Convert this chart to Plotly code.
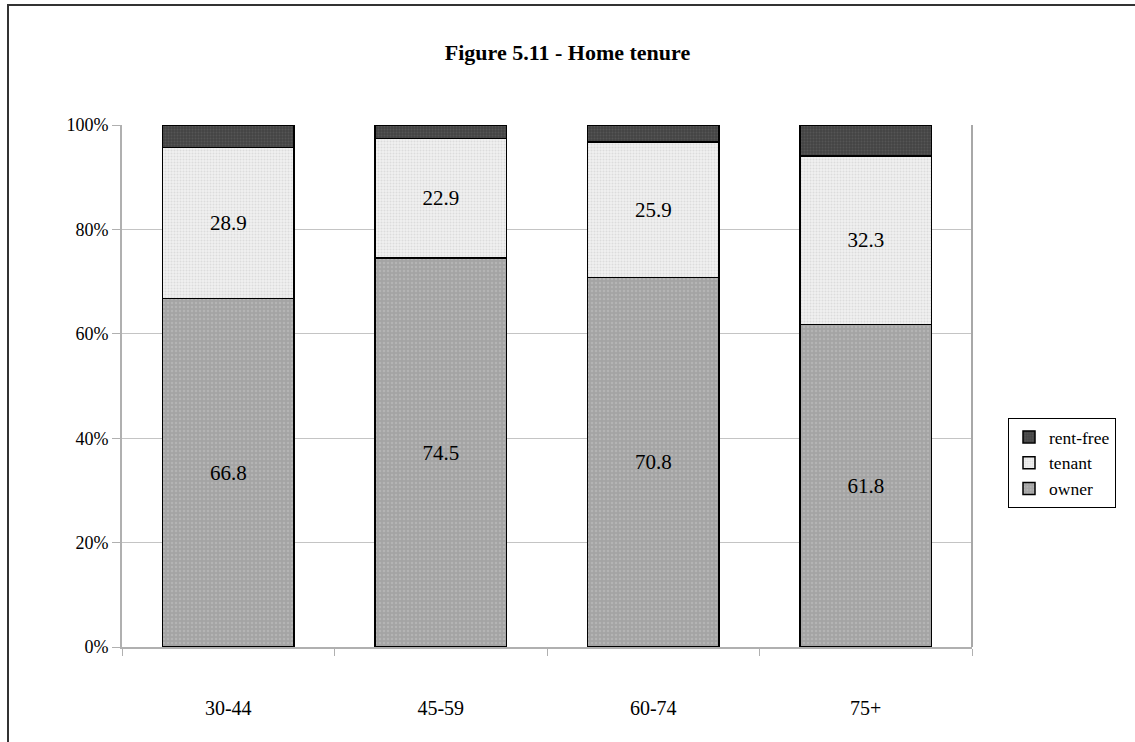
import plotly.graph_objects as go

# Age groups and tenure shares (%)
age_groups = ["30-44", "45-59", "60-74", "75+"]
owner = [66.8, 74.5, 70.8, 61.8]
tenant = [28.9, 22.9, 25.9, 32.3]
rent_free = [4.3, 2.6, 3.3, 5.9]

W, H = 1135, 742
ML, MR, MT, MB = 122, 163, 125, 95
PW, PH = W - ML - MR, H - MT - MB

font_family = "Liberation Serif, Times New Roman, serif"
label_font = dict(size=21, color="black", family=font_family)

fig = go.Figure()

fig.add_trace(go.Bar(
    name="owner", x=age_groups, y=owner,
    text=[f"{v:.1f}" for v in owner], textposition="inside",
    insidetextanchor="middle", textangle=0, textfont=label_font,
    marker=dict(color="#a4a4a4", line=dict(color="black", width=1.5),
                pattern=dict(shape=".", fgcolor="#c4c4c4", bgcolor="#a4a4a4",
                             size=4, solidity=0.3)),
))
fig.add_trace(go.Bar(
    name="tenant", x=age_groups, y=tenant,
    text=[f"{v:.1f}" for v in tenant], textposition="inside",
    insidetextanchor="middle", textangle=0, textfont=label_font,
    marker=dict(color="#ececec", line=dict(color="black", width=1.5),
                pattern=dict(shape=".", fgcolor="#c8c8c8", bgcolor="#f0f0f0",
                             size=3, solidity=0.35)),
))
fig.add_trace(go.Bar(
    name="rent-free", x=age_groups, y=rent_free,
    marker=dict(color="#4a4a4a", line=dict(color="black", width=1.5),
                pattern=dict(shape=".", fgcolor="#666666", bgcolor="#444444",
                             size=3, solidity=0.35)),
))

# outer frame of the chart
fig.add_shape(type="rect", xref="paper", yref="paper",
              x0=(8 - ML) / PW, x1=(W + 10 - ML) / PW,
              y0=(PH + MT - (H + 10)) / PH, y1=(PH + MT - 5) / PH,
              line=dict(color="#333333", width=2), fillcolor="rgba(0,0,0,0)",
              layer="below")

fig.update_layout(
    width=W, height=H,
    margin=dict(l=ML, r=MR, t=MT, b=MB),
    barmode="stack", bargap=0.38,
    paper_bgcolor="white", plot_bgcolor="white",
    font=dict(family=font_family, size=19, color="black"),
    title=dict(text="<b>Figure 5.11 - Home tenure</b>", x=0.5, xanchor="center",
               y=1 - 52 / H, yanchor="middle",
               font=dict(size=22, family=font_family, color="black")),
    showlegend=True,
    legend=dict(x=(1008 - ML) / PW, xanchor="left",
                y=(PH + MT - 418) / PH, yanchor="top",
                traceorder="reversed",
                bordercolor="black", borderwidth=1, bgcolor="white",
                font=dict(size=17.5, family=font_family),
                itemwidth=30, tracegroupgap=0),
    xaxis=dict(showline=True, linecolor="#b0b0b0", linewidth=2,
               ticks="outside", tickson="boundaries", ticklen=7,
               tickcolor="#b0b0b0", tickfont=dict(size=20),
               ticklabelstandoff=42,
               showgrid=False, mirror=False),
    yaxis=dict(range=[0, 100], dtick=20, ticksuffix="%",
               showline=True, linecolor="#b0b0b0", linewidth=2,
               ticks="outside", ticklen=8, tickcolor="#b0b0b0",
               showgrid=True, gridcolor="#c4c4c4", gridwidth=1,
               tickfont=dict(size=18), zeroline=False),
)

# right edge of plot area
fig.add_shape(type="line", xref="paper", yref="paper", x0=1, x1=1, y0=0, y1=1,
              line=dict(color="#a8a8a8", width=2))

fig.write_html("out.html")
